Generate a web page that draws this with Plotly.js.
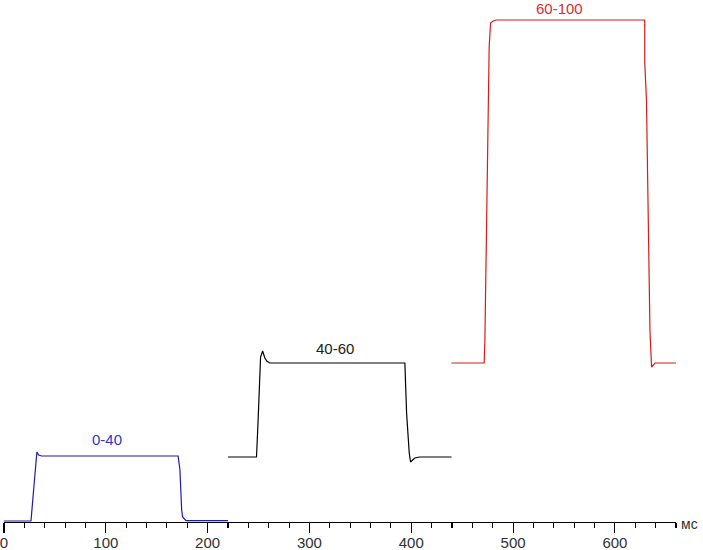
<!DOCTYPE html>
<html>
<head>
<meta charset="utf-8">
<script src="https://cdn.plot.ly/plotly-3.0.1.min.js"></script>
<style>html,body{margin:0;padding:0;background:#fff;}#chart{width:703px;height:550px;}</style>
</head>
<body>
<div id="chart"></div>
<script>
// Response curves (time in ms, brightness in arbitrary units)
const blueX = [0, 26.5, 28.5, 30.5, 31.5, 32.3, 34, 37, 171, 172.8, 174.5, 175.4, 178.7, 220];
const blueY = [1, 1, 25, 52, 66, 70, 67, 66, 66, 52, 12, 5, 1.3, 1.3];

const blackX = [220, 248, 249.5, 251, 252, 254, 256.2, 258, 261, 393.7, 395.4, 398, 399.3, 403.5, 408, 439.5];
const blackY = [65, 65, 100, 140, 165, 171, 164, 161, 159, 159, 109, 69, 60, 64, 65, 65];

const redX = [439.5, 471.6, 472.3, 474, 475.5, 476.5, 477.9, 480.5, 483.7, 629.3, 629.3, 631, 634.4, 635, 636, 639.4, 660];
const redY = [159, 159, 182, 300, 422, 475, 499, 501, 502, 502, 460, 422, 192, 172, 155, 159, 159];

const labels = ["0-40", "40-60", "60-100"];
const labelX = [101, 325, 546];
const labelY = [83, 174, 514];

const tickVals = [0, 100, 200, 300, 400, 500, 600];
const tickText = ["0", "100", "200", "300", "400", "500", "600"];
const unitLabel = "мс";

const lineColors = ["#1c1ca8", "#000000", "#d41c1c"];
const textColors = ["#3434c4", "#202020", "#dc2c2c"];
const FONT = "Liberation Sans, Arial, sans-serif";

const traces = [
  {x: blueX, y: blueY, mode: "lines", line: {color: lineColors[0], width: 1.2}, hoverinfo: "skip"},
  {x: blackX, y: blackY, mode: "lines", line: {color: lineColors[1], width: 1.2}, hoverinfo: "skip"},
  {x: redX, y: redY, mode: "lines", line: {color: lineColors[2], width: 1.2}, hoverinfo: "skip"}
];

const annotations = labels.map((t, i) => ({
  x: labelX[i], y: labelY[i], xref: "x", yref: "y", text: t, showarrow: false,
  font: {family: FONT, size: 15, color: textColors[i]},
  xanchor: "center", yanchor: "middle"
}));
annotations.push({
  x: 1.006, y: 0, xref: "paper", yref: "paper", yshift: -2, text: unitLabel, showarrow: false,
  font: {family: FONT, size: 14, color: "#303030"},
  xanchor: "left", yanchor: "middle", borderpad: 0
});

const layout = {
  width: 703, height: 550,
  margin: {l: 4, r: 27, t: 0, b: 28, pad: 0},
  paper_bgcolor: "#ffffff", plot_bgcolor: "#ffffff",
  showlegend: false,
  xaxis: {
    range: [0, 660], showgrid: false, zeroline: false,
    showline: true, linecolor: "#000", linewidth: 1.2,
    ticks: "outside", ticklen: 10, tickwidth: 1.1, tickcolor: "#000",
    tickvals: tickVals, ticktext: tickText,
    ticklabeloverflow: "allow", ticklabelstandoff: -3,
    tickfont: {family: FONT, size: 15, color: "#303030"},
    minor: {dtick: 20, ticks: "outside", ticklen: 5, tickwidth: 1.1, tickcolor: "#000", showgrid: false},
    fixedrange: true
  },
  yaxis: {
    range: [0, 522], visible: false, showgrid: false, zeroline: false, fixedrange: true
  },
  annotations: annotations
};

Plotly.newPlot("chart", traces, layout, {staticPlot: true, displayModeBar: false});
</script>
</body>
</html>
